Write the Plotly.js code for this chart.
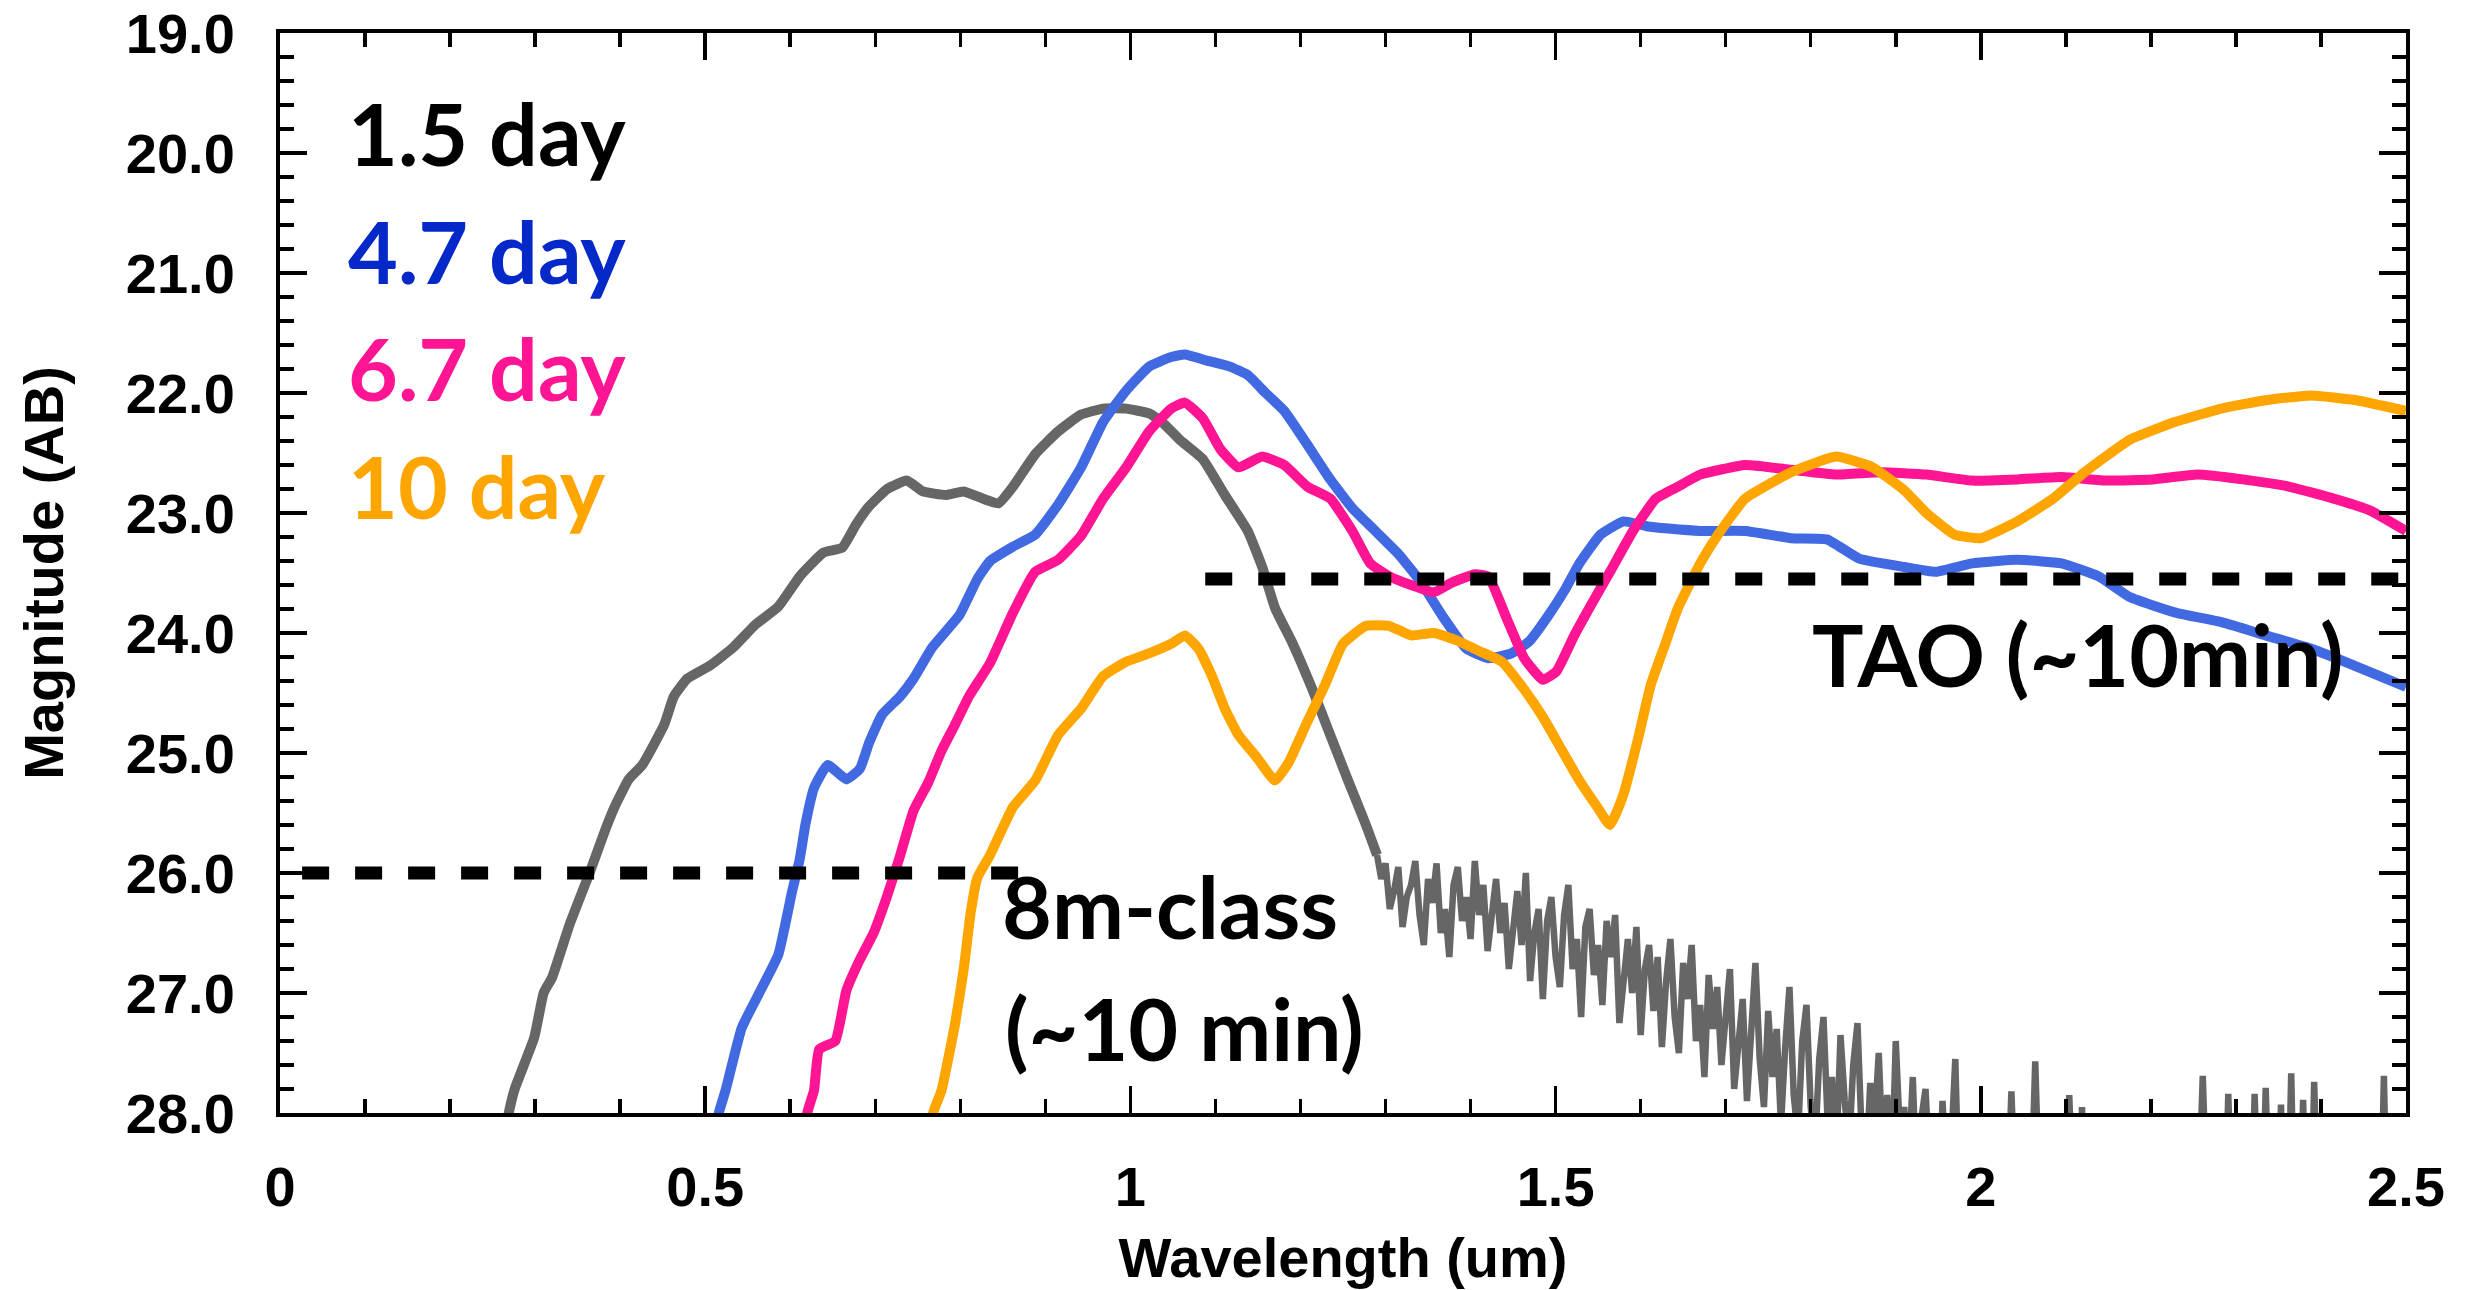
<!DOCTYPE html>
<html>
<head>
<meta charset="utf-8">
<script src="https://cdn.plot.ly/plotly-3.0.1.min.js"></script>
<style>html,body{margin:0;padding:0;background:#fff;}#chart{width:2487px;height:1290px;}</style>
</head>
<body>
<div id="chart"></div>
<script>
// ---- data (wavelength in um, magnitude AB) ----
const gray_smooth_x = [0.255,0.269,0.276,0.299,0.310,0.320,0.341,0.364,0.383,0.394,0.410,0.426,0.452,0.463,0.479,0.506,0.533,0.559,0.586,0.612,0.639,0.661,0.677,0.692,0.714,0.737,0.756,0.783,0.804,0.830,0.845,0.862,0.888,0.915,0.942,0.968,0.995,1.022,1.037,1.058,1.085,1.111,1.138,1.155,1.170,1.191,1.214,1.235,1.256,1.277,1.290];
const gray_smooth_y = [28.6,28.0,27.8,27.37,27.0,26.87,26.42,26.0,25.63,25.44,25.22,25.10,24.76,24.53,24.38,24.27,24.12,23.93,23.78,23.52,23.33,23.29,23.10,22.95,22.80,22.73,22.82,22.85,22.82,22.89,22.92,22.78,22.51,22.32,22.18,22.13,22.13,22.17,22.24,22.39,22.55,22.85,23.15,23.45,23.79,24.09,24.47,24.85,25.23,25.60,25.85];

const gray_noise_x = [1.290,1.295,1.300,1.305,1.310,1.315,1.320,1.325,1.330,1.335,1.340,1.345,1.350,1.355,1.360,1.365,1.370,1.375,1.380,1.385,1.390,1.395,1.400,1.405,1.410,1.415,1.420,1.425,1.430,1.435,1.440,1.445,1.450,1.455,1.460,1.465,1.470,1.475,1.480,1.485,1.490,1.495,1.500,1.505,1.510,1.515,1.520,1.525,1.530,1.535,1.540,1.545,1.550,1.555,1.560,1.565,1.570,1.575,1.580,1.585,1.590,1.595,1.600,1.605,1.610,1.615,1.620,1.625,1.630,1.635,1.640,1.645,1.650,1.655,1.660,1.665,1.670,1.675,1.680,1.685,1.690,1.695,1.700,1.705,1.710,1.715,1.720,1.725,1.730,1.735,1.740,1.745,1.750,1.755,1.760,1.765,1.770,1.775,1.780,1.785,1.790,1.795,1.800,1.805,1.810,1.815,1.820,1.825,1.830,1.835,1.840,1.845,1.850,1.855,1.860,1.865,1.870,1.875,1.880,1.885,1.890,1.895,1.900,1.905,1.910,1.915,1.920,1.925,1.930,1.935,1.940,1.945,1.950,1.955,1.960,1.965,1.970,1.975,
  2.030,2.036,2.042,2.058,2.064,2.070,2.098,2.104,2.110,2.115,2.119,2.123,2.255,2.261,2.267,2.287,2.291,2.296,2.318,2.322,2.327,2.331,2.335,2.340,2.349,2.353,2.357,2.361,2.365,2.369,2.375,2.379,2.383,2.388,2.392,2.397,2.470,2.474,2.478,2.500];
const gray_noise_y = [25.85,26.05,25.92,26.30,26.15,25.95,26.45,26.20,26.10,25.90,
  26.35,26.60,26.05,26.25,25.92,26.50,26.30,26.70,26.10,25.95,
  26.40,26.20,26.55,25.90,26.35,26.10,26.65,26.30,26.05,26.50,
  26.25,26.80,26.45,26.15,26.60,26.00,26.90,26.50,26.30,27.05,
  26.40,26.20,26.70,26.95,26.35,26.10,26.80,26.55,27.20,26.45,
  26.30,26.85,26.60,27.10,26.40,26.70,26.35,27.25,26.90,26.55,
  27.00,26.45,27.35,26.80,26.60,27.15,26.70,27.45,26.90,26.55,
  27.20,27.50,26.75,27.05,26.60,27.40,27.10,27.70,26.85,27.30,
  26.95,27.60,27.20,26.80,27.80,27.35,27.05,27.90,27.25,26.75,
  27.55,27.95,27.15,27.70,27.30,28.10,27.45,26.95,27.85,28.20,
  27.40,27.10,27.95,28.30,27.55,27.20,28.10,27.70,28.40,27.35,
  27.90,28.30,27.60,27.25,28.20,28.50,27.75,28.10,27.50,28.40,
  27.85,28.60,27.40,28.20,27.95,28.50,27.70,28.70,28.05,27.80,
  28.50,28.20,28.80,27.90,28.60,28.30,27.55,28.90,
  29.0,27.82,29.0,29.0,27.57,29.0,29.0,27.85,29.0,29.0,27.95,29.0,29.0,27.69,29.0,29.0,27.84,29.0,29.0,27.84,29.0,29.0,27.79,29.0,29.0,27.93,29.0,29.0,27.67,29.0,29.0,27.89,29.0,29.0,27.74,29.0,29.0,27.69,29.0,29.0];

const blue_x = [0.505,0.516,0.524,0.543,0.565,0.586,0.602,0.611,0.618,0.628,0.644,0.666,0.682,0.693,0.708,0.729,0.745,0.767,0.799,0.820,0.835,0.862,0.888,0.915,0.942,0.968,0.995,1.022,1.048,1.064,1.090,1.117,1.138,1.159,1.181,1.208,1.235,1.261,1.288,1.315,1.341,1.368,1.395,1.421,1.448,1.469,1.490,1.511,1.528,1.553,1.580,1.607,1.633,1.670,1.723,1.777,1.819,1.857,1.910,1.947,1.990,2.043,2.095,2.139,2.175,2.229,2.283,2.335,2.388,2.442,2.500];
const blue_y = [28.6,28.0,27.81,27.29,26.98,26.68,26.16,25.89,25.59,25.29,25.10,25.22,25.13,24.91,24.68,24.53,24.38,24.12,23.85,23.55,23.40,23.28,23.18,22.93,22.62,22.24,21.98,21.78,21.70,21.68,21.73,21.78,21.85,22.00,22.15,22.43,22.72,22.96,23.15,23.34,23.57,23.87,24.13,24.21,24.17,24.07,23.87,23.64,23.42,23.18,23.07,23.11,23.13,23.15,23.15,23.21,23.22,23.38,23.45,23.49,23.42,23.39,23.42,23.53,23.70,23.83,23.91,24.02,24.13,24.28,24.45];

const pink_x = [0.610,0.620,0.628,0.634,0.653,0.666,0.682,0.698,0.714,0.729,0.745,0.762,0.778,0.794,0.810,0.835,0.862,0.888,0.915,0.942,0.968,0.995,1.022,1.048,1.064,1.085,1.106,1.127,1.155,1.181,1.208,1.235,1.261,1.282,1.305,1.330,1.357,1.378,1.405,1.421,1.442,1.463,1.485,1.501,1.522,1.543,1.564,1.591,1.618,1.644,1.670,1.723,1.777,1.830,1.883,1.936,1.990,2.043,2.095,2.149,2.202,2.255,2.308,2.362,2.415,2.458,2.500];
const pink_y = [28.6,28.0,27.81,27.47,27.40,26.98,26.72,26.50,26.19,25.86,25.48,25.25,24.98,24.76,24.53,24.25,23.83,23.49,23.39,23.19,22.88,22.62,22.32,22.13,22.08,22.21,22.47,22.62,22.53,22.60,22.78,22.88,23.15,23.42,23.53,23.60,23.66,23.58,23.51,23.53,23.87,24.21,24.39,24.32,24.02,23.75,23.49,23.15,22.88,22.78,22.68,22.60,22.64,22.68,22.66,22.68,22.73,22.72,22.70,22.73,22.72,22.68,22.72,22.78,22.88,22.98,23.15];

const orange_x = [0.760,0.768,0.778,0.794,0.804,0.812,0.820,0.835,0.862,0.888,0.915,0.942,0.968,0.995,1.022,1.048,1.064,1.080,1.096,1.111,1.127,1.149,1.170,1.186,1.208,1.229,1.250,1.277,1.304,1.330,1.357,1.383,1.410,1.437,1.463,1.485,1.506,1.528,1.549,1.564,1.580,1.597,1.612,1.629,1.644,1.670,1.691,1.723,1.777,1.830,1.873,1.910,1.936,1.969,2.000,2.043,2.085,2.122,2.175,2.229,2.283,2.335,2.388,2.442,2.500];
const orange_y = [28.6,28.0,27.81,27.25,26.80,26.34,26.04,25.85,25.45,25.23,24.85,24.63,24.36,24.24,24.17,24.09,24.02,24.13,24.36,24.63,24.85,25.04,25.23,25.08,24.74,24.43,24.09,23.94,23.94,24.02,24.00,24.06,24.15,24.24,24.47,24.70,24.96,25.23,25.45,25.60,25.34,24.88,24.43,24.09,23.79,23.42,23.18,22.88,22.66,22.53,22.62,22.81,23.00,23.18,23.21,23.07,22.88,22.66,22.39,22.24,22.13,22.06,22.02,22.06,22.15];

// limit lines
const tao_x = [1.088, 2.5];
const tao_y = [23.55, 23.55];
const m8_x = [0.026, 0.871];
const m8_y = [26.0, 26.0];

// labels
const series_labels = ['1.5 day', '4.7 day', '6.7 day', '10 day'];
const label_y = [19.83, 20.81, 21.79, 22.77];
const label_colors = ['#000000', '#0528C8', '#FF1493', '#FFA500'];
const tao_label = 'TAO (~10min)';
const m8_label = ['8m-class', '(~10 min)'];

const xTitle = 'Wavelength (um)';
const yTitle = 'Magnitude (AB)';

// ---- traces ----
const W = 10;
const sm = {shape: 'spline', smoothing: 0.4};
const traces = [
  {x: gray_smooth_x, y: gray_smooth_y, mode: 'lines', line: Object.assign({color: '#666666', width: W}, sm)},
  {x: gray_noise_x, y: gray_noise_y, mode: 'lines', line: {color: '#666666', width: 6.5}},
  {x: blue_x, y: blue_y, mode: 'lines', line: Object.assign({color: '#4169E1', width: W}, sm)},
  {x: pink_x, y: pink_y, mode: 'lines', line: Object.assign({color: '#FF1493', width: W}, sm)},
  {x: orange_x, y: orange_y, mode: 'lines', line: Object.assign({color: '#FFA500', width: W}, sm)},
  {x: tao_x, y: tao_y, mode: 'lines', line: {color: '#000000', width: 13, dash: '27px,26px'}},
  {x: m8_x, y: m8_y, mode: 'lines', line: {color: '#000000', width: 13, dash: '27px,26px'}}
];

const tickFont = {family: 'Liberation Sans, Arial, sans-serif', size: 56, weight: 700, color: '#000'};
const annFont = (c) => ({family: 'Lato, Noto Sans, sans-serif', size: 86, weight: 700, color: c});

const annotations = [];
series_labels.forEach((t, i) => {
  annotations.push({xref: 'x', yref: 'y', x: 0.078, y: label_y[i], text: t, showarrow: false,
    xanchor: 'left', yanchor: 'middle', font: annFont(label_colors[i])});
});
annotations.push({xref: 'x', yref: 'y', x: 1.799, y: 24.17, text: tao_label, showarrow: false,
  xanchor: 'left', yanchor: 'middle', font: annFont('#000')});
annotations.push({xref: 'x', yref: 'y', x: 0.847, y: 26.27, text: m8_label[0], showarrow: false,
  xanchor: 'left', yanchor: 'middle', font: annFont('#000')});
annotations.push({xref: 'x', yref: 'y', x: 0.850, y: 27.29, text: m8_label[1], showarrow: false,
  xanchor: 'left', yanchor: 'middle', font: annFont('#000')});

const axisCommon = {
  showline: true, linecolor: '#000', linewidth: 4, mirror: 'ticks',
  ticks: 'inside', ticklen: 27, tickwidth: 3.5, tickcolor: '#000',
  showgrid: false, zeroline: false, tickfont: tickFont, automargin: false
};

const layout = {
  width: 2487, height: 1290,
  margin: {l: 280, r: 81, t: 33, b: 177, pad: 0},
  paper_bgcolor: '#fff', plot_bgcolor: '#fff',
  showlegend: false,
  xaxis: Object.assign({}, axisCommon, {
    range: [0, 2.5], tick0: 0, dtick: 0.5, ticklabelstandoff: 22,
    minor: {ticks: 'inside', ticklen: 14, tickwidth: 3.5, tickcolor: '#000', dtick: 0.1, showgrid: false},
    title: {text: xTitle, font: tickFont, standoff: 22}
  }),
  yaxis: Object.assign({}, axisCommon, {
    range: [28, 19], tick0: 19, dtick: 1, tickformat: '.1f', ticklabelstandoff: 30,
    minor: {ticks: 'inside', ticklen: 14, tickwidth: 3.5, tickcolor: '#000', dtick: 0.2, showgrid: false},
    title: {text: yTitle, font: tickFont, standoff: 45}
  }),
  annotations: annotations
};

Plotly.newPlot('chart', traces, layout, {staticPlot: true});
</script>
</body>
</html>
